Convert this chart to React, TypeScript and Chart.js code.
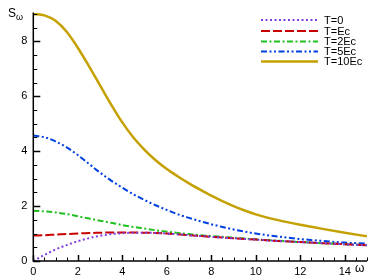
import React, { useEffect, useRef } from "react";
import { Chart, registerables } from "chart.js";

Chart.register(...registerables);

const omega = [0, 0.5, 1, 1.5, 2, 2.5, 3, 3.5, 4, 4.5, 5, 5.5, 6, 6.5, 7, 7.5, 8, 8.5, 9, 9.5, 10, 11, 12, 13, 14, 15];
const sT0 = [0, 0.22, 0.42, 0.58, 0.72, 0.83, 0.92, 0.98, 1.01, 1.03, 1.03, 1.02, 1.0, 0.97, 0.94, 0.91, 0.88, 0.855, 0.83, 0.805, 0.78, 0.73, 0.69, 0.65, 0.61, 0.57];
const sTEc = [0.93, 0.94, 0.96, 0.98, 1.0, 1.02, 1.03, 1.04, 1.04, 1.04, 1.03, 1.02, 1.0, 0.97, 0.94, 0.91, 0.88, 0.855, 0.83, 0.805, 0.78, 0.73, 0.69, 0.65, 0.61, 0.57];
const sT2Ec = [1.83, 1.81, 1.77, 1.71, 1.63, 1.55, 1.47, 1.39, 1.31, 1.24, 1.18, 1.12, 1.07, 1.02, 0.98, 0.94, 0.91, 0.88, 0.85, 0.82, 0.79, 0.74, 0.69, 0.65, 0.61, 0.58];
const sT5Ec = [4.57, 4.51, 4.36, 4.14, 3.86, 3.54, 3.22, 2.93, 2.67, 2.43, 2.22, 2.03, 1.86, 1.7, 1.57, 1.45, 1.34, 1.24, 1.15, 1.07, 1.0, 0.89, 0.8, 0.73, 0.67, 0.63];
const sT10Ec = [9.0, 8.95, 8.75, 8.35, 7.77, 7.1, 6.4, 5.7, 5.05, 4.5, 4.05, 3.67, 3.35, 3.08, 2.83, 2.6, 2.38, 2.18, 2.0, 1.84, 1.7, 1.49, 1.32, 1.17, 1.03, 0.9];

const seriesLabels = ["T=0", "T=Ec", "T=2Ec", "T=5Ec", "T=10Ec"];
const seriesValues = [sT0, sTEc, sT2Ec, sT5Ec, sT10Ec];
const seriesColors = ["#8040e0", "#c80000", "#20c020", "#0040e0", "#c4a000"];
const seriesDashes = [[2, 2.5], [9, 3], [6, 2.5, 2, 2.5], [6, 2.5, 2, 2.5, 2, 2.5], []];
const seriesWidths = [2, 2, 2, 2, 2.5];

const xTickLabels = ["0", "2", "4", "6", "8", "10", "12", "14"];
const yTickLabels = ["0", "2", "4", "6", "8"];

const FONT = "'Liberation Sans', Arial, sans-serif";

const decorPlugin = {
  id: "decor",
  afterDraw(chart: any) {
    const ctx = chart.ctx;
    const xs = chart.scales.x;
    const ys = chart.scales.y;
    const ca = chart.chartArea;
    ctx.save();
    ctx.strokeStyle = "#000";
    ctx.lineWidth = 1.5;
    ctx.setLineDash([]);
    ctx.beginPath();
    ctx.moveTo(ca.left, ca.top);
    ctx.lineTo(ca.left, ca.bottom);
    ctx.lineTo(ca.right, ca.bottom);
    ctx.stroke();
    for (let i = 0; i <= 30; i++) {
      const v = i * 0.5;
      const px = Math.round(xs.getPixelForValue(v)) + 0.5;
      const len = i % 4 === 0 ? 6 : 3.5;
      ctx.lineWidth = i % 4 === 0 ? 1.5 : 1;
      ctx.beginPath();
      ctx.moveTo(px, ca.bottom);
      ctx.lineTo(px, ca.bottom - len);
      ctx.stroke();
    }
    for (let i = 0; i <= 18; i++) {
      const v = i * 0.5;
      const py = Math.round(ys.getPixelForValue(v)) + 0.5;
      const len = i % 4 === 0 ? 7 : 4;
      ctx.lineWidth = i % 4 === 0 ? 1.5 : 1;
      ctx.beginPath();
      ctx.moveTo(ca.left, py);
      ctx.lineTo(ca.left + len, py);
      ctx.stroke();
    }
    ctx.fillStyle = "#000";
    ctx.font = "12px " + FONT;
    ctx.textAlign = "left";
    ctx.textBaseline = "alphabetic";
    ctx.fillText("S", 8, 17);
    ctx.font = "9px " + FONT;
    ctx.fillText("ω", 16, 20);
    ctx.font = "12px " + FONT;
    ctx.fillText("ω", 355, 272);
    const rows = [20, 31, 41.5, 51.5, 61.5];
    chart.data.datasets.forEach((ds: any, i: number) => {
      const y = rows[i];
      ctx.strokeStyle = ds.borderColor;
      ctx.lineWidth = ds.borderWidth;
      ctx.setLineDash(ds.borderDash || []);
      ctx.beginPath();
      ctx.moveTo(261, y);
      ctx.lineTo(318, y);
      ctx.stroke();
      ctx.setLineDash([]);
      ctx.fillStyle = "#000";
      ctx.font = "11px " + FONT;
      ctx.textBaseline = "middle";
      ctx.fillText(ds.label, 324, y + 0.5);
    });
    ctx.restore();
  },
};

export default function App() {
  const ref = useRef<HTMLCanvasElement>(null);
  useEffect(() => {
    document.body.style.margin = "0";
    const canvas = ref.current!;
    const chart = new Chart(canvas, {
      type: "line",
      data: {
        datasets: seriesLabels.map((label, i) => ({
          label,
          data: omega.map((x, k) => ({ x, y: seriesValues[i][k] })),
          borderColor: seriesColors[i],
          backgroundColor: seriesColors[i],
          borderWidth: seriesWidths[i],
          borderDash: seriesDashes[i],
          pointRadius: 0,
          cubicInterpolationMode: "monotone",
          fill: false,
        })),
      },
      options: {
        animation: false,
        responsive: false,
        devicePixelRatio: 1,
        layout: { padding: { left: 0, top: 7, right: 7, bottom: 0 } },
        plugins: { legend: { display: false }, tooltip: { enabled: false } },
        scales: {
          x: {
            type: "linear",
            min: 0,
            max: 15,
            grid: { display: false, drawTicks: false },
            border: { display: false },
            afterFit: (s: any) => {
              s.height = 18;
            },
            ticks: {
              stepSize: 2,
              includeBounds: false,
              maxRotation: 0,
              autoSkip: false,
              padding: 4,
              color: "#000",
              font: { size: 11, family: FONT },
              callback: (v: any) => {
                const idx = xTickLabels.indexOf(String(v));
                return idx >= 0 ? xTickLabels[idx] : "";
              },
            },
          },
          y: {
            type: "linear",
            min: 0,
            max: 9.05,
            grid: { display: false, drawTicks: false },
            border: { display: false },
            afterFit: (s: any) => {
              s.width = 33.3;
            },
            ticks: {
              stepSize: 2,
              includeBounds: false,
              padding: 6,
              color: "#000",
              font: { size: 11, family: FONT },
              callback: (v: any) => {
                const idx = yTickLabels.indexOf(String(v));
                return idx >= 0 ? yTickLabels[idx] : "";
              },
            },
          },
        },
      },
      plugins: [decorPlugin],
    } as any);
    return () => chart.destroy();
  }, []);
  return (
    <div style={{ width: 374, height: 279 }}>
      <canvas ref={ref} width={374} height={279} style={{ display: "block" }} />
    </div>
  );
}
